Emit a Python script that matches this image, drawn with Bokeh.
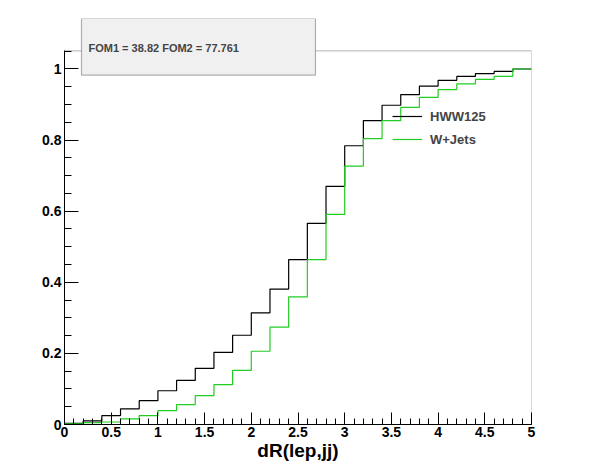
from bokeh.plotting import figure
from bokeh.models import (Range1d, SingleIntervalTicker, BoxAnnotation, Label, Legend,
                          LegendItem, LinearAxis, FixedTicker)
from bokeh.embed import file_html
from bokeh.resources import INLINE

bin_edges = [round(0.2 * i, 1) for i in range(26)]
hww125 = [0.003, 0.010, 0.025, 0.044, 0.067, 0.095, 0.124, 0.158, 0.203, 0.251,
          0.314, 0.381, 0.464, 0.566, 0.670, 0.784, 0.855, 0.898, 0.928, 0.952,
          0.968, 0.979, 0.987, 0.993, 1.000]
wjets = [0.002, 0.005, 0.007, 0.016, 0.025, 0.039, 0.056, 0.081, 0.112, 0.152,
         0.206, 0.274, 0.359, 0.464, 0.591, 0.727, 0.804, 0.855, 0.892, 0.920,
         0.942, 0.958, 0.971, 0.979, 1.000]
stats_text = "FOM1 = 38.82 FOM2 = 77.761"
FONT = "Liberation Sans"
YMAX = 1.051

p = figure(width=588, height=464, output_backend="svg", toolbar_location=None,
           x_range=Range1d(0, 5), y_range=Range1d(0, 1.142),
           min_border_left=64, min_border_right=57, min_border_top=18, min_border_bottom=40)
p.grid.visible = False
p.outline_line_color = None
p.background_fill_color = "white"
p.border_fill_color = "white"

p.xaxis.ticker = SingleIntervalTicker(interval=0.5, num_minor_ticks=5)
p.yaxis.ticker = SingleIntervalTicker(interval=0.2, num_minor_ticks=4)
p.yaxis.bounds = (0, YMAX)
for ax, maj, mnr in ((p.xaxis, 12, 6), (p.yaxis, 14, 7)):
    ax.major_tick_in = maj
    ax.major_tick_out = 0
    ax.minor_tick_in = mnr
    ax.minor_tick_out = 0
    ax.major_label_text_font = FONT
    ax.major_label_text_font_style = "bold"
    ax.major_label_text_font_size = "14px"
    ax.major_label_text_color = "black"
    ax.axis_line_color = "black"
    ax.major_tick_line_color = "black"
    ax.minor_tick_line_color = "black"
p.xaxis.major_label_standoff = 2
p.yaxis.major_label_standoff = 3
p.yaxis.formatter.use_scientific = False

# frame
p.add_layout(BoxAnnotation(left=0, right=5, bottom=0, top=YMAX, fill_alpha=0,
                           line_color="black", line_width=1, level="underlay"))

xs = bin_edges[:-1] + [bin_edges[-1]]
r1 = p.step(xs, hww125 + [hww125[-1]], mode="after", line_color="black", line_width=1.2)
r2 = p.step(xs, wjets + [wjets[-1]], mode="after", line_color="#22cc22", line_width=1.2)

# stats box
p.add_layout(BoxAnnotation(left=0.182, right=2.687, top=1.142, bottom=0.983,
                           fill_color="#f0f0f0", fill_alpha=1, line_color="black",
                           line_width=1.2, level="overlay"))
p.add_layout(Label(x=0.257, y=1.059, text=stats_text,
                   text_font=FONT, text_font_style="bold", text_font_size="11px",
                   text_baseline="middle", level="overlay"))

# axis title, right-aligned via a bounded secondary axis
lab_ax = LinearAxis(bounds=(4.02, 5.0), ticker=FixedTicker(ticks=[]),
                    axis_line_color=None, major_tick_line_color=None,
                    minor_tick_line_color=None, major_label_text_font_size="1px",
                    axis_label="dR(lep,jj)", axis_label_text_font=FONT,
                    axis_label_text_font_style="bold", axis_label_text_font_size="19px",
                    axis_label_text_color="black", axis_label_standoff=0)
p.add_layout(lab_ax, "below")

leg = Legend(items=[LegendItem(label="HWW125", renderers=[r1]),
                    LegendItem(label="W+Jets", renderers=[r2])],
             location=(328, 275), padding=0, margin=0, spacing=3,
             glyph_width=30, glyph_height=20, label_standoff=8,
             background_fill_alpha=0, border_line_alpha=0,
             label_text_font=FONT, label_text_font_style="bold",
             label_text_font_size="13px")
p.add_layout(leg)

open("out.html", "w").write(file_html(p, INLINE))
